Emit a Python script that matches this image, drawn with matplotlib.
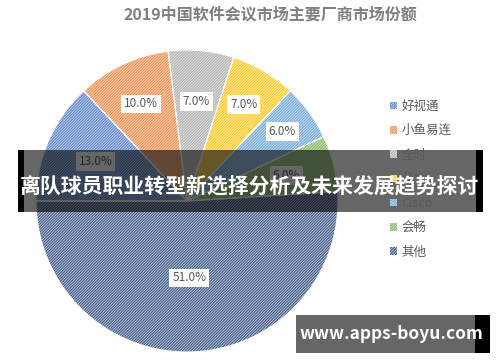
#!/usr/bin/env python3
"""
2019 China video conferencing market share pie
"""

import numpy as np
import matplotlib
matplotlib.use('Agg')
import matplotlib.pyplot as plt
from matplotlib.patches import Rectangle

plt.rcParams['font.family'] = ['Noto Sans CJK SC', 'DejaVu Sans']
plt.rcParams['hatch.linewidth'] = 0.9

# data
vendors = ['好视通', '小鱼易连', '全时', '华为', 'Cisco', '会畅', '其他']
shares = [13.0, 10.0, 7.0, 7.0, 6.0, 6.0, 51.0]
colors = ['#4472C4', '#ED7D31', '#A5A5A5', '#FFC000', '#5B9BD5', '#70AD47', '#264478']
label_dist = [0.66, 0.71, 0.66, 0.74, 0.78, 0.68, 0.51]

title = '2019中国软件会议市场主要厂商市场份额'
banner = '离队球员职业转型新选择分析及未来发展趋势探讨'
watermark = 'www.apps-boyu.com'

W, H = 500, 362
fig = plt.figure(figsize=(W / 100, H / 100), dpi=100)

# pie placement in pixels
cx, cy, R = 187, 201, 151
ax = fig.add_axes([(cx - R) / W, (H - cy - R) / H, 2 * R / W, 2 * R / H])


def lighten(c, f):
    rgb = np.array(matplotlib.colors.to_rgb(c))
    return tuple(rgb + (1 - rgb) * f)


wedges, _ = ax.pie(shares, startangle=180, counterclock=False, radius=1,
                   wedgeprops=dict(linewidth=0))
for w, c in zip(wedges, colors):
    w.set_facecolor(lighten(c, 0.78))
    w.set_edgecolor(lighten(c, 0.15))
    w.set_hatch('/' * 12)
    w.set_linewidth(0)

# white borders on top
ax.pie(shares, startangle=180, counterclock=False, radius=1,
       wedgeprops=dict(facecolor='none', edgecolor='white', linewidth=0.8))

for w, v, d in zip(wedges, shares, label_dist):
    ang = np.deg2rad((w.theta1 + w.theta2) / 2)
    ax.text(d * np.cos(ang), d * np.sin(ang), f'{v:.1f}%', ha='center', va='center',
            fontsize=8.5, color='#595959',
            bbox=dict(boxstyle='square,pad=0.25', facecolor='white', edgecolor='none'))

ax.set_xlim(-1, 1)
ax.set_ylim(-1, 1)
ax.set_aspect('auto')
ax.axis('off')

fig.text(270 / W, 1 - 15 / H, title, ha='center', va='center', fontsize=11.5,
         fontweight='bold', color='#7F7F7F')

leg = fig.legend(wedges, vendors, loc='upper left', bbox_to_anchor=(390 / W, 1 - 100 / H),
                 frameon=False, fontsize=9, labelcolor='#595959', handlelength=0.55,
                 handleheight=0.55, handletextpad=0.35, labelspacing=0.9,
                 borderaxespad=0, borderpad=0)

# banner overlay
fig.patches.append(Rectangle((24 / W, 1 - 212 / H), 452 / W, 62 / H, transform=fig.transFigure,
                             facecolor='black', alpha=0.6, edgecolor='none', zorder=5))
fig.patches.append(Rectangle((18 / W, 1 - 212 / H), 6 / W, 62 / H, transform=fig.transFigure,
                             facecolor='black', edgecolor='none', zorder=5))
fig.patches.append(Rectangle((476 / W, 1 - 212 / H), 7 / W, 62 / H, transform=fig.transFigure,
                             facecolor='black', edgecolor='none', zorder=5))
fig.text(249 / W, 1 - 186 / H, banner, ha='center', va='center', fontsize=15,
         fontweight='bold', color='white', zorder=6)

# watermark
fig.patches.append(Rectangle((296 / W, 1 - 353 / H), 179 / W, 38 / H, transform=fig.transFigure,
                             facecolor='#666666', edgecolor='none', zorder=5))
fig.patches.append(Rectangle((475 / W, 1 - 353 / H), 15 / W, 38 / H, transform=fig.transFigure,
                             facecolor='black', edgecolor='none', zorder=5))
fig.text(391 / W, 1 - 334 / H, watermark, ha='center', va='center', fontsize=12.5,
         fontweight='bold', color='white', zorder=6)

fig.savefig('out.png', dpi=100)
